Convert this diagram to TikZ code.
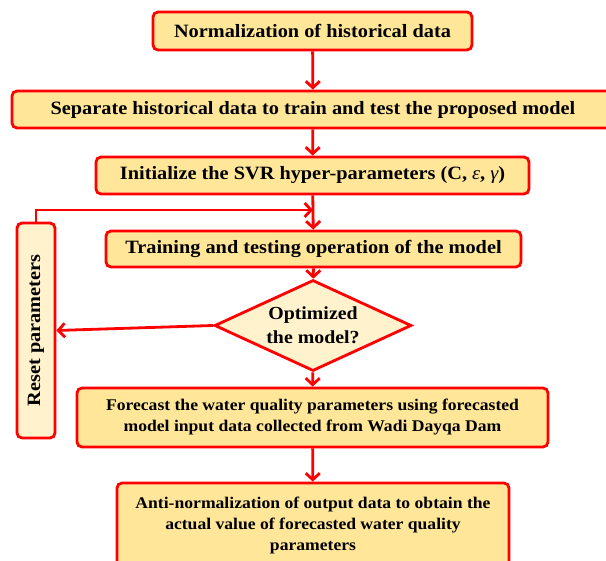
\documentclass[tikz,border=0pt]{standalone}
\usepackage{fontspec}
\setmainfont{Liberation Serif}
\newfontfamily\wideserif[FakeStretch=1.08]{Liberation Serif}
\usetikzlibrary{shapes.geometric,arrows.meta}
\definecolor{boxfill}{HTML}{FFE699}
\definecolor{palefill}{HTML}{FFF2CC}
\definecolor{edgered}{HTML}{FF0000}
\begin{document}
\begin{tikzpicture}[x=1pt,y=-1pt,
  stepbox/.style={draw=edgered, line width=2.8pt, fill=boxfill, rounded corners=5pt,
    inner sep=0pt, align=center, font=\wideserif\bfseries\fontsize{18.8}{22}\selectfont},
  smallbox/.style={stepbox, font=\wideserif\bfseries\fontsize{16.3}{21}\selectfont},
  palebox/.style={stepbox, fill=palefill},
  decision/.style={draw=edgered, line width=2.8pt, fill=palefill, diamond,
    inner sep=0pt},
  label/.style={align=center, font=\wideserif\bfseries\fontsize{18.4}{24}\selectfont},
  flow/.style={draw=edgered, line width=2.8pt, -{Straight Barb[length=6.5pt,width=14pt]}}]
\clip (0,0) rectangle (606,561);

% process steps
\node[stepbox, minimum width=319pt, minimum height=38pt] (norm) at (312.5,31)
  {Normalization of historical data};
\node[stepbox, minimum width=602pt, minimum height=37pt] (split) at (313,109.5)
  {Separate historical data to train and test the proposed model};
\node[stepbox, minimum width=433pt, minimum height=37pt] (init) at (312.5,175.5)
  {Initialize the SVR hyper-parameters (C, {\mdseries\itshape ε}, {\mdseries\itshape γ})};
\node[stepbox, minimum width=415pt, minimum height=36pt] (train) at (313.5,249)
  {Training and testing operation of the model};
\node[decision, minimum width=197pt, minimum height=91pt] (opt) at (313,325.5) {};
\node[label] at (opt) {Optimized\\the model?};
\node[palebox, minimum width=38pt, minimum height=215pt] (reset) at (36,330.5)
  {\rotatebox{90}{Reset parameters}};
\node[smallbox, minimum width=471pt, minimum height=59pt] (fcst) at (312.5,417.5)
  {Forecast the water quality parameters using forecasted\\
   model input data collected from Wadi Dayqa Dam};
\node[smallbox, minimum width=392pt, minimum height=84pt] (anti) at (313,525)
  {Anti-normalization of output data to obtain the\\
   actual value of forecasted water quality\\ parameters};

% connectors
\coordinate (join) at (313,210);
\draw[flow] (norm) -- (split);
\draw[flow] (split) -- (init);
\draw[flow] (init) -- (train);
\draw[flow] (reset.north) |- (join);
\draw[flow] (train) -- (opt);
\draw[flow] (opt.west) -- (reset.east);
\draw[flow] (opt) -- (fcst);
\draw[flow] (fcst) -- (anti);
\end{tikzpicture}
\end{document}
